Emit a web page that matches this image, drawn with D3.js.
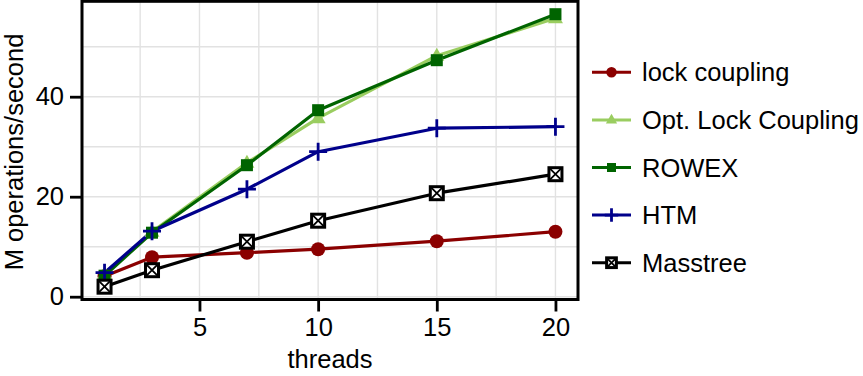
<!DOCTYPE html>
<html><head><meta charset="utf-8">
<script src="https://cdn.jsdelivr.net/npm/d3@7"></script>
<style>body{margin:0;background:#fff}svg{display:block}text{font-family:"Liberation Sans",Arial,sans-serif}</style>
</head><body><svg id="c" width="863" height="376"></svg>
<script>
const threads = [1, 3, 7, 10, 15, 20];
const lockCoupling = [4.1, 7.9, 8.8, 9.5, 11.1, 13.0];
const optLockCoupling = [4.5, 13.0, 26.8, 35.7, 48.2, 55.7];
const rowex = [4.2, 12.8, 26.3, 37.3, 47.3, 56.5];
const htm = [4.8, 13.1, 21.5, 29.0, 33.7, 34.0];
const masstree = [2.0, 5.3, 11.0, 15.2, 20.7, 24.5];
const seriesNames = ["lock coupling", "Opt. Lock Coupling", "ROWEX", "HTM", "Masstree"];
const seriesValues = [lockCoupling, optLockCoupling, rowex, htm, masstree];
const seriesColors = ["#8B0000", "#9ACD60", "#006400", "#00008B", "#000000"];
const seriesShapes = ["circle", "triangle", "square", "plus", "boxx"];
const xTicks = [5, 10, 15, 20];
const yTicks = [0, 20, 40];
const xMinor = [2.5, 7.5, 12.5, 17.5];
const yMinor = [10, 30, 50];

const svg = d3.select("#c");
const P = {l: 82, r: 578, t: 1.3, b: 299.5};
const x = d3.scaleLinear().domain([0.05, 20.95]).range([P.l, P.r]);
const y = d3.scaleLinear().domain([-0.56, 59.08]).range([P.b, P.t]);

// grid
const g = svg.append("g");
[...xMinor, ...xTicks].forEach(v => g.append("line").attr("x1", x(v)).attr("x2", x(v)).attr("y1", P.t).attr("y2", P.b).attr("stroke", "#e2e2e2").attr("stroke-width", 1.4));
[...yMinor, ...yTicks].forEach(v => g.append("line").attr("y1", y(v)).attr("y2", y(v)).attr("x1", P.l).attr("x2", P.r).attr("stroke", "#e2e2e2").attr("stroke-width", 1.4));

function drawShape(sel, shape, color, cx, cy, s) {
  if (shape === "circle") {
    sel.append("circle").attr("cx", cx).attr("cy", cy).attr("r", 7 * s).attr("fill", color);
  } else if (shape === "triangle") {
    const w = 15 * s, h = 13 * s;
    sel.append("path").attr("d", `M${cx},${cy - h * 0.62}L${cx + w / 2},${cy + h * 0.38}L${cx - w / 2},${cy + h * 0.38}Z`).attr("fill", color);
  } else if (shape === "square") {
    const a = 12 * s;
    sel.append("rect").attr("x", cx - a / 2).attr("y", cy - a / 2).attr("width", a).attr("height", a).attr("fill", color);
  } else if (shape === "plus") {
    const a = 9 * s;
    sel.append("path").attr("d", `M${cx - a},${cy}H${cx + a}M${cx},${cy - a}V${cy + a}`).attr("stroke", color).attr("stroke-width", 2.8).attr("fill", "none");
  } else if (shape === "boxx") {
    const a = 6.5 * s;
    sel.append("rect").attr("x", cx - a).attr("y", cy - a).attr("width", 2 * a).attr("height", 2 * a).attr("fill", "#fff").attr("stroke", color).attr("stroke-width", 3);
    sel.append("path").attr("d", `M${cx - a},${cy - a}L${cx + a},${cy + a}M${cx + a},${cy - a}L${cx - a},${cy + a}`).attr("stroke", color).attr("stroke-width", 1.8);
  }
}

const line = d3.line().x((d, i) => x(threads[i])).y(d => y(d));
seriesValues.forEach((vals, k) => {
  svg.append("path").attr("d", line(vals)).attr("fill", "none").attr("stroke", seriesColors[k]).attr("stroke-width", 3.2).attr("stroke-linejoin", "round");
});
seriesValues.forEach((vals, k) => {
  const pg = svg.append("g");
  vals.forEach((v, i) => drawShape(pg, seriesShapes[k], seriesColors[k], x(threads[i]), y(v), 1));
});

// panel border
svg.append("rect").attr("x", P.l).attr("y", P.t).attr("width", P.r - P.l).attr("height", P.b - P.t).attr("fill", "none").attr("stroke", "#000").attr("stroke-width", 3);

// axes
const xa = svg.append("g").attr("transform", `translate(0,${P.b})`).call(d3.axisBottom(x).tickValues(xTicks).tickSize(12).tickPadding(6).tickFormat(d3.format("d")));
const ya = svg.append("g").attr("transform", `translate(${P.l},0)`).call(d3.axisLeft(y).tickValues(yTicks).tickSize(12).tickPadding(6).tickFormat(d3.format("d")));
[xa, ya].forEach(a => {
  a.select(".domain").remove();
  a.selectAll(".tick line").attr("stroke", "#000").attr("stroke-width", 2.8);
  a.selectAll(".tick text").attr("fill", "#000").style("font-size", "25.5px").style("font-family", '"Liberation Sans",Arial,sans-serif');
});

svg.append("text").attr("x", 330).attr("y", 368).attr("text-anchor", "middle").style("font-size", "25.5px").text("threads");
svg.append("text").attr("transform", "translate(23,152) rotate(-90)").attr("text-anchor", "middle").style("font-size", "25.5px").text("M operations/second");

// legend
const lg = svg.append("g");
seriesNames.forEach((name, k) => {
  const cy = 72.3 + k * 47.6;
  lg.append("line").attr("x1", 592).attr("x2", 631).attr("y1", cy).attr("y2", cy).attr("stroke", seriesColors[k]).attr("stroke-width", 3);
  drawShape(lg, seriesShapes[k], seriesColors[k], 611.5, cy, 0.75);
  lg.append("text").attr("x", 642).attr("y", cy + 9).style("font-size", "25.5px").text(name);
});
</script></body></html>
